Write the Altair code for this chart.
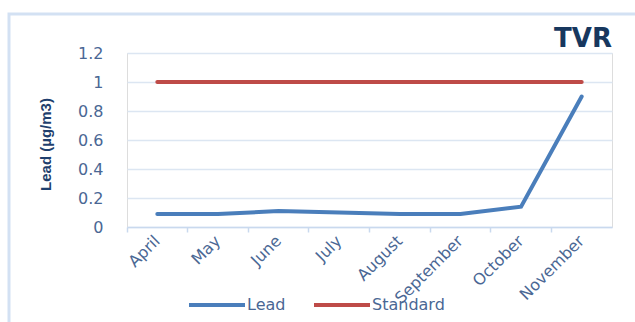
import altair as alt
import pandas as pd

months = ["April", "May", "June", "July", "August", "September", "October", "November"]
lead = [0.09, 0.09, 0.11, 0.10, 0.09, 0.09, 0.14, 0.90]
standard = [1, 1, 1, 1, 1, 1, 1, 1]
series_names = ["Lead", "Standard"]
series_colors = ["#4A7EBB", "#BE4B48"]

rows = []
for m, v in zip(months, lead):
    rows.append({"Month": m, "Series": "Lead", "Value": v})
for m, v in zip(months, standard):
    rows.append({"Month": m, "Series": "Standard", "Value": v})
df = pd.DataFrame(rows)

W, H = 485, 174
LABEL_COLOR = "#4A6794"
FONT = "DejaVu Sans"

frame = alt.Chart(pd.DataFrame({"a": [0]})).mark_rect(
    fill=None, stroke="#D3E1F3", strokeWidth=3
).encode(
    x=alt.value(-118), x2=alt.value(W + 60),
    y=alt.value(-39), y2=alt.value(H + 120)
)

lines = alt.Chart(df).mark_line(strokeWidth=4, strokeCap="round").encode(
    x=alt.X("Month:N", sort=months,
            scale=alt.Scale(type="band", paddingInner=0, paddingOuter=0),
            axis=alt.Axis(title=None, labelAngle=-45, labelAlign="right",
                          labelBaseline="middle", labelFontSize=16, labelFont=FONT,
                          labelColor=LABEL_COLOR, labelPadding=6,
                          domainColor="#C9D9EE", domainWidth=1.5,
                          tickColor="#C9D9EE", tickSize=5, tickWidth=1.5,
                          bandPosition=0, grid=False)),
    y=alt.Y("Value:Q", scale=alt.Scale(domain=[0, 1.2], nice=False),
            axis=alt.Axis(values=[0, 0.2, 0.4, 0.6, 0.8, 1.0, 1.2],
                          labelExpr="datum.value == 0 ? '0' : datum.value == 1 ? '1' : format(datum.value, '.1f')",
                          labelFontSize=16, labelFont=FONT, labelColor=LABEL_COLOR,
                          labelPadding=24, ticks=False, domain=False,
                          gridColor="#DCE6F2", gridWidth=1.5,
                          title="Lead (µg/m3)", titleFont="Liberation Sans",
                          titleFontSize=15, titleFontWeight="bold", titleColor="#1F3F6E",
                          titleX=-82, titleY=H / 2 + 4, titleAngle=-90,
                          titleAlign="center", titleBaseline="middle")),
    color=alt.Color("Series:N",
                    scale=alt.Scale(domain=series_names, range=series_colors),
                    legend=alt.Legend(title=None, orient="none", direction="horizontal",
                                      legendX=60, legendY=222,
                                      symbolType="stroke", symbolSize=3136,
                                      symbolStrokeWidth=4, labelFontSize=16,
                                      labelFont=FONT, labelColor=LABEL_COLOR,
                                      labelOffset=0, columnPadding=20)),
)

title = alt.Chart(pd.DataFrame({"t": ["TVR"]})).mark_text(
    align="right", baseline="bottom", font=FONT, fontSize=26,
    fontWeight="bold", color="#17375E"
).encode(x=alt.value(W), y=alt.value(-1), text="t:N")

chart = alt.layer(frame, lines, title).properties(
    width=W, height=H,
    autosize=alt.AutoSizeParams(type="none"),
    padding={"left": 127, "top": 53, "right": 23, "bottom": 95},
).configure_view(stroke=None).configure(background="white")

chart.save("out.html", embed_options={"renderer": "svg", "actions": False})
